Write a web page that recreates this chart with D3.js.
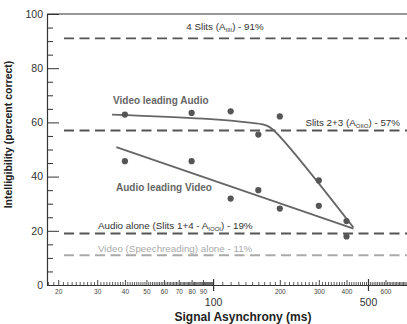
<!DOCTYPE html>
<html>
<head>
<meta charset="utf-8">
<script src="https://cdn.jsdelivr.net/npm/d3@7"></script>
<style>
  body { margin: 0; background: #fff; }
  text { font-family: "Liberation Sans", Arial, sans-serif; }
</style>
</head>
<body>
<script>
"use strict";

// measured points (ms vs percent correct)
const delaysMs = [40, 80, 120, 160, 200, 300, 400];
const videoLeading = [62.9, 63.5, 64.1, 55.5, 62.2, 38.6, 23.6];
const audioLeading = [45.7, 45.7, 31.9, 35.0, 28.2, 29.2, 17.9];

// fitted curves
const videoFitMs = [35, 90, 150, 172, 186, 430];
const videoFitPct = [62.9, 61.4, 59.8, 59.0, 57.4, 21.2];
const audioFitMs = [36.6, 430];
const audioFitPct = [50.9, 20.8];

// reference (baseline) levels
const refValues = [91, 57, 19, 11];
const refNames = ["4 Slits (A", "Slits 2+3 (A", "Audio alone (Slits 1+4 - A", "Video (Speechreading) alone - 11%"];
const refSubs = ["IIII", "OIIO", "IOOI", null];
const refTails = [") - 91%", ") - 57%", ") - 19%", ""];

const xLabelTicks = [20, 30, 40, 50, 60, 70, 80, 90, 200, 300, 400, 600];
const xBigTicks = [100, 500];
const yTicks = [0, 20, 40, 60, 80, 100];

const W = 407, H = 324;
const x = d3.scaleLog().domain([17.8, 750]).range([47, 407]);
const y = d3.scaleLinear().domain([0, 100]).range([285, 14]);

const svg = d3.select("body").append("svg")
    .attr("width", W).attr("height", H);
svg.append("rect").attr("width", W).attr("height", H).attr("fill", "#fff");

const ink = "#333";
const font = "'Liberation Sans', Arial, sans-serif";

// ---- x axis minor ticks
const minorX = d3.range(18, 100).concat(d3.range(110, 751, 10))
    .filter(v => !xLabelTicks.includes(v) && !xBigTicks.includes(v));
const xMinor = svg.append("g")
    .attr("transform", `translate(0,${y(0)})`)
    .call(d3.axisBottom(x).tickValues(minorX).tickSizeInner(-3).tickSizeOuter(0).tickFormat(""));
xMinor.select(".domain").attr("stroke", ink).attr("stroke-width", 1.2);
xMinor.selectAll(".tick line").attr("stroke", ink).attr("stroke-width", 0.8);

const xMid = svg.append("g")
    .attr("transform", `translate(0,${y(0)})`)
    .call(d3.axisBottom(x).tickValues(xLabelTicks).tickSizeInner(-5).tickSizeOuter(0)
        .tickPadding(4).tickFormat(d3.format("d")));
xMid.select(".domain").remove();
xMid.selectAll(".tick line").attr("stroke", ink).attr("stroke-width", 0.9);
xMid.selectAll(".tick text").attr("font-size", 6.5).attr("fill", "#444")
    .style("font-family", font);

const xBig = svg.append("g")
    .attr("transform", `translate(0,${y(0)})`)
    .call(d3.axisBottom(x).tickValues(xBigTicks).tickSizeInner(6).tickSizeOuter(0)
        .tickPadding(8).tickFormat(d3.format("d")));
xBig.select(".domain").remove();
xBig.selectAll(".tick line").attr("stroke", ink).attr("stroke-width", 1.2).attr("y1", -6);
xBig.selectAll(".tick text").attr("font-size", 10.5).attr("fill", ink)
    .style("font-family", font);

// ---- y axis
const yMinor = svg.append("g")
    .attr("transform", `translate(${x.range()[0]},0)`)
    .call(d3.axisLeft(y).tickValues(d3.range(5, 100, 5).filter(v => v % 20)).tickSizeInner(-6)
        .tickSizeOuter(0).tickFormat(""));
yMinor.select(".domain").remove();
yMinor.selectAll(".tick line").attr("stroke", ink).attr("stroke-width", 1);

const yMajor = svg.append("g")
    .attr("transform", `translate(${x.range()[0]},0)`)
    .call(d3.axisLeft(y).tickValues(yTicks).tickSizeInner(-12).tickSizeOuter(0).tickPadding(4));
yMajor.select(".domain").attr("stroke", ink).attr("stroke-width", 1.2);
yMajor.selectAll(".tick line").attr("stroke", ink).attr("stroke-width", 1);
yMajor.selectAll(".tick text").attr("font-size", 10.5).attr("fill", ink)
    .style("font-family", font);

// top frame
svg.append("line")
    .attr("x1", x.range()[0]).attr("x2", x.range()[1])
    .attr("y1", y(100)).attr("y2", y(100))
    .attr("stroke", ink).attr("stroke-width", 1.2);

// ---- reference dashed lines
const refStart = x.invert(64);
const refColors = ["#555", "#555", "#555", "#aaa"];
svg.append("g").selectAll("line")
    .data(refValues)
    .join("line")
    .attr("x1", x(refStart)).attr("x2", x.range()[1])
    .attr("y1", d => y(d)).attr("y2", d => y(d))
    .attr("stroke", (d, i) => refColors[i])
    .attr("stroke-width", 1.9)
    .attr("stroke-dasharray", "10,5.5");

const refLabelPos = [
    { x: 225, y: 30, anchor: "middle" },
    { x: 400, y: 126, anchor: "end" },
    { x: 98, y: 229, anchor: "start" },
    { x: 98, y: 251.5, anchor: "start" }
];
refValues.forEach((v, i) => {
    const t = svg.append("text")
        .attr("x", refLabelPos[i].x).attr("y", refLabelPos[i].y)
        .attr("text-anchor", refLabelPos[i].anchor)
        .attr("font-size", 9.8)
        .attr("fill", i === 3 ? "#aaa" : "#333");
    t.append("tspan").text(refNames[i]);
    if (refSubs[i]) {
        t.append("tspan").attr("font-size", 6).attr("dy", 2).text(refSubs[i]);
        t.append("tspan").attr("dy", -2).text(refTails[i]);
    }
});

// ---- fit lines
const line = d3.line()
    .x(d => x(d[0])).y(d => y(d[1]))
    .curve(d3.curveCatmullRom.alpha(0.5));
const fits = [
    d3.zip(videoFitMs, videoFitPct),
    d3.zip(audioFitMs, audioFitPct)
];
svg.append("g").selectAll("path")
    .data(fits)
    .join("path")
    .attr("d", line)
    .attr("fill", "none")
    .attr("stroke", "#666")
    .attr("stroke-width", 1.8);

// ---- points
const pts = d3.zip(delaysMs, videoLeading).concat(d3.zip(delaysMs, audioLeading));
svg.append("g").selectAll("circle")
    .data(pts)
    .join("circle")
    .attr("cx", d => x(d[0])).attr("cy", d => y(d[1]))
    .attr("r", 3.1)
    .attr("fill", "#555");

// ---- series labels
svg.append("text")
    .attr("x", 113).attr("y", 104)
    .attr("font-size", 10).attr("font-weight", "bold").attr("fill", "#666")
    .text("Video leading Audio");
svg.append("text")
    .attr("x", 116).attr("y", 191)
    .attr("font-size", 10).attr("font-weight", "bold").attr("fill", "#666")
    .text("Audio leading Video");

// ---- axis titles
svg.append("text")
    .attr("x", 243).attr("y", 321)
    .attr("text-anchor", "middle")
    .attr("font-size", 12).attr("font-weight", "bold").attr("fill", "#222")
    .text("Signal Asynchrony (ms)");
svg.append("text")
    .attr("transform", `translate(12,${(y(0) + y(100)) / 2 - 15}) rotate(-90)`)
    .attr("text-anchor", "middle")
    .attr("font-size", 10.5).attr("font-weight", "bold").attr("fill", "#222")
    .text("Intelligibility (percent correct)");
</script>
</body>
</html>
